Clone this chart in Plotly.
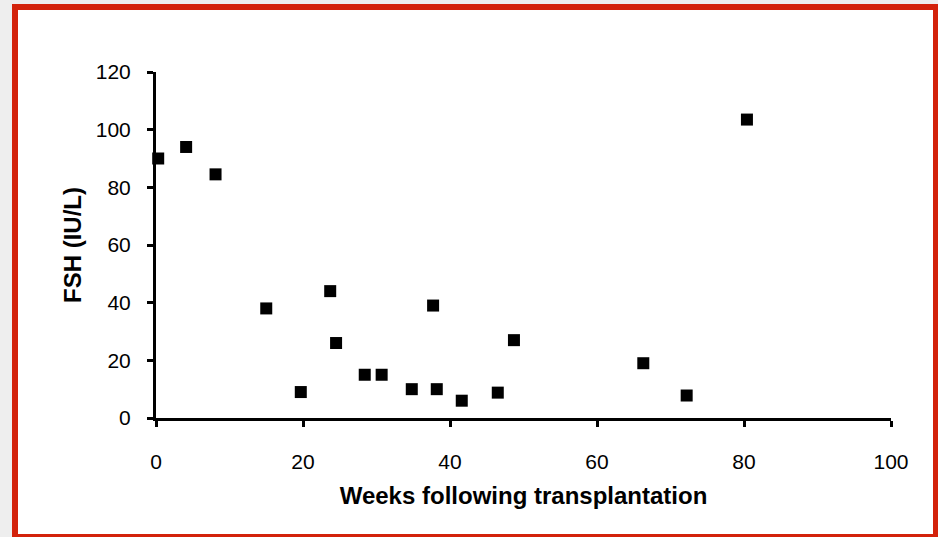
import plotly.graph_objects as go

weeks = [0.3, 4.1, 8.1, 15.0, 19.7, 23.7, 24.5, 28.4, 30.7, 34.8, 37.7, 38.2, 41.6, 46.5, 48.7, 66.3, 72.2, 80.4]
fsh = [90, 94, 84.5, 38, 9, 44, 26, 15, 15, 10, 39, 10, 6, 8.8, 27, 19, 7.8, 103.5]

x_ticks = [0, 20, 40, 60, 80, 100]
y_ticks = [0, 20, 40, 60, 80, 100, 120]
x_title = "Weeks following transplantation"
y_title = "FSH (IU/L)"

W, H = 938, 537
L, R, T, B = 156, 47, 72, 119
pw, ph = W - L - R, H - T - B


def px(X):
    return (X - L) / pw


def py(Y):
    return (H - B - Y) / ph


fig = go.Figure()
fig.add_trace(go.Scatter(
    x=weeks, y=fsh, mode="markers",
    marker=dict(symbol="square", size=12, color="black", line=dict(width=0)),
    cliponaxis=False, showlegend=False,
))

font = "Liberation Sans, Arial, sans-serif"
fig.update_layout(
    width=W, height=H,
    margin=dict(l=L, r=R, t=T, b=B),
    paper_bgcolor="#eeeeee",
    plot_bgcolor="rgba(0,0,0,0)",
    font=dict(family=font, color="black"),
    shapes=[
        dict(type="rect", xref="paper", yref="paper", layer="below",
             x0=px(12), x1=px(938), y0=py(4), y1=py(537),
             fillcolor="#d3220b", line=dict(width=0)),
        dict(type="rect", xref="paper", yref="paper", layer="below",
             x0=px(18), x1=px(933), y0=py(10), y1=py(534),
             fillcolor="white", line=dict(width=0)),
    ],
    xaxis=dict(
        range=[0, 100], tickvals=x_ticks, ticks="outside", ticklen=6, tickwidth=3,
        tickcolor="black", showline=True, linewidth=3, linecolor="black",
        showgrid=False, zeroline=False, tickfont=dict(size=21, family=font),
        ticklabelstandoff=17,
        title=dict(text="<b>" + x_title + "</b>", font=dict(size=24, family=font), standoff=15),
    ),
    yaxis=dict(
        range=[0, 120], tickvals=y_ticks, ticks="outside", ticklen=6, tickwidth=3,
        tickcolor="black", showline=True, linewidth=3, linecolor="black",
        showgrid=False, zeroline=False, tickfont=dict(size=21, family=font),
        ticklabelstandoff=12,
        title=dict(text="<b>" + y_title + "</b>", font=dict(size=24, family=font), standoff=8),
    ),
)

fig.write_html(
    "out.html",
    config={"displayModeBar": False},
    post_script="document.body.style.margin='0';document.body.style.overflow='hidden';",
)
